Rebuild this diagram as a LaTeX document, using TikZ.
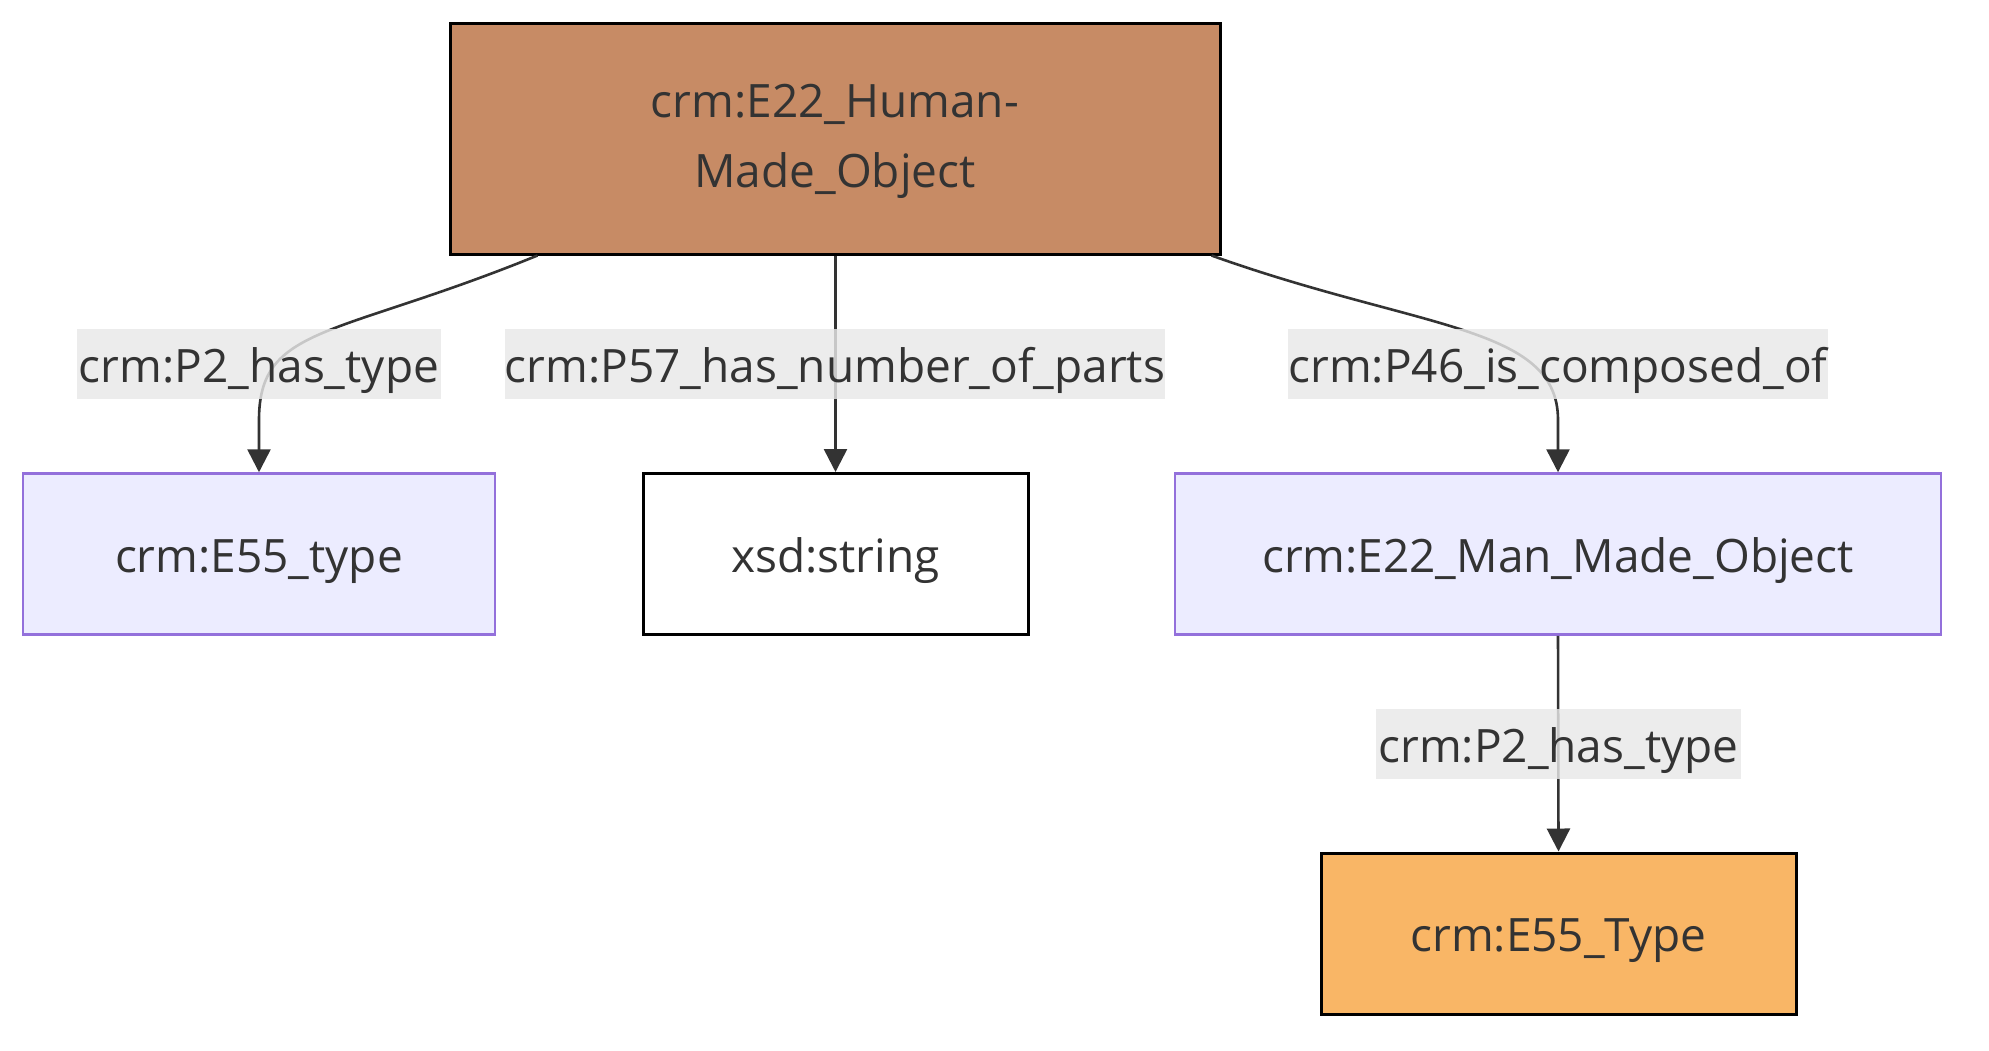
\documentclass[tikz,border=0pt]{standalone}
\usepackage{fontspec}
\setmainfont{Open Sans}
\usetikzlibrary{arrows.meta,calc}
\definecolor{txt}{HTML}{333333}
\definecolor{topfill}{HTML}{C78B65}
\definecolor{purfill}{HTML}{ECECFF}
\definecolor{purdraw}{HTML}{9370DB}
\definecolor{orfill}{HTML}{F9B666}
\definecolor{lblbg}{HTML}{E8E8E8}
\begin{document}
\begin{tikzpicture}[x=1pt,y=-1pt,
  every node/.style={text=txt, font=\fontsize{46}{70}\selectfont, inner sep=0pt},
  oneline/.style={text height=38pt, text depth=2pt},
  box/.style={rectangle, minimum height=161pt, align=center},
  blackbox/.style={box, draw=black, line width=3pt},
  purbox/.style={box, oneline, draw=purdraw, fill=purfill, line width=2.5pt},
  lbl/.style={rectangle, oneline, fill=lblbg, fill opacity=0.82, text opacity=1, minimum height=70pt},
  edge/.style={draw=txt, line width=2.6pt, -{Triangle[length=23pt,width=23pt]}}
]
\useasboundingbox (0,0) rectangle (1989,1050);
\fill[white] (0,0) rectangle (1989,1050);

\node[blackbox, fill=topfill, minimum width=770pt, minimum height=231pt] (top) at (835,138.5)
  {\raisebox{-6.5pt}{\begin{tabular}{@{}c@{}}crm:E22\_Human-\\Made\_Object\end{tabular}}};
\node[purbox, minimum width=472pt] (e55a) at (259,554) {crm:E55\_type};
\node[blackbox, oneline, fill=white, minimum width=385pt] (xsd) at (835.5,554) {xsd:string};
\node[purbox, minimum width=766pt] (e22b) at (1558,554) {crm:E22\_Man\_Made\_Object};
\node[blackbox, oneline, fill=orfill, minimum width=475pt] (e55b) at (1558.5,933.5) {crm:E55\_Type};

\coordinate (s1) at ([xshift=89pt]top.south west);
\coordinate (s3) at ([xshift=-10pt]top.south east);

\draw[edge] (s1) .. controls (335,338) and (259,325) .. (259,420) -- (e55a.north);
\draw[edge] (top.south -| xsd.north) -- (xsd.north);
\draw[edge] (s3) .. controls (1420,330) and (1558,325) .. (1558,420) -- (e22b.north);
\draw[edge] (e22b.south) -- (e55b.north);

\node[lbl, minimum width=364pt] (l1) at (259,364) {crm:P2\_has\_type};
\node[lbl, minimum width=657pt] (l2) at (835,364) {crm:P57\_has\_number\_of\_parts};
\node[lbl, minimum width=537pt] (l3) at (1558,364) {crm:P46\_is\_composed\_of};
\node[lbl, minimum width=365pt] (l4) at (1558.5,744) {crm:P2\_has\_type};
\end{tikzpicture}
\end{document}
